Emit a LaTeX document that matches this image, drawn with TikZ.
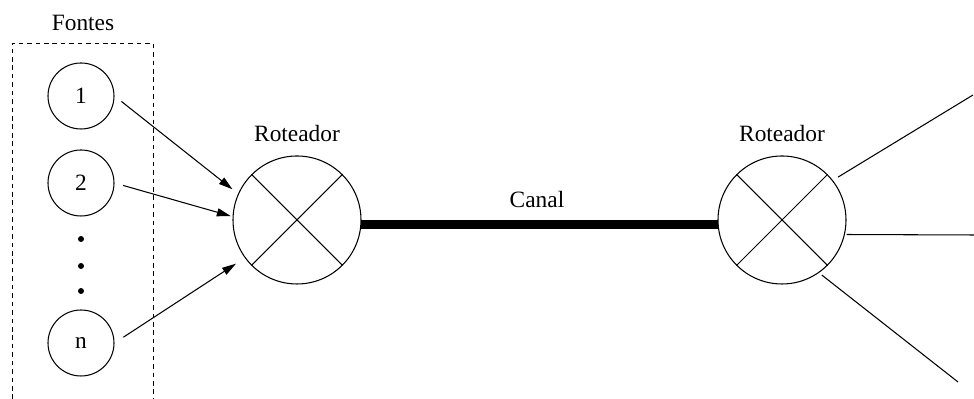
\documentclass[tikz,border=0pt]{standalone}
\usepackage{fontspec}
\setmainfont{Liberation Serif}
\newfontfamily\rotulo{Liberation Serif}
\usetikzlibrary{positioning,arrows.meta}

\tikzset{
	fonte/.style={draw, circle, line width=0.6pt, minimum size=1.32cm, inner sep=0pt},
	roteador/.style={draw, circle, line width=0.6pt, minimum size=2.56cm, inner sep=0pt},
	seta/.style={line width=0.6pt, -{Triangle[length=2.8mm,width=1.6mm]}},
}

\begin{document}
\begin{tikzpicture}[font=\rotulo\fontsize{13.3}{15}\selectfont]
		\useasboundingbox (0,0) rectangle (19.48,7.98);

		% fontes
		\draw [dash pattern=on 2.6pt off 2.2pt, line width=0.5pt]
			(0.24,0) -- (0.24,7.12) -- (3.06,7.12) -- (3.06,0);
		\node (fontes) at (1.66,7.52) {Fontes};
		\node[fonte] (s1) at (1.62,6.06) {1};
		\node[fonte] (s2) at (1.62,4.32) {2};
		\node[fonte] (sn) at (1.62,1.12) {n};
		\foreach \y in {3.20,2.66,2.16}
			\fill (1.62,\y) circle [radius=0.06];

		% roteadores
		\node[roteador] (r1) at (5.94,3.58) {};
		\node[roteador] (r2) at (15.64,3.58) {};
		\foreach \r in {r1,r2} {
			\draw[line width=0.6pt] (\r.north west) -- (\r.south east);
			\draw[line width=0.6pt] (\r.north east) -- (\r.south west);
		}
		\node[above=1.5mm of r1] (r1lbl) {Roteador};
		\node[above=1.5mm of r2] (r2lbl) {Roteador};

		% canal
		\draw[line width=4.6pt] (r1.-4.5) -- (r2.184.5);
		\node (canal) at (10.74,3.98) {Canal};

		\draw[seta, shorten <=5pt, shorten >=4pt] (s1.east) -- (r1.156);
		\draw[seta, shorten <=5pt, shorten >=1pt] (s2.east) -- (r1.177);
		\draw[seta, shorten <=6pt, shorten >=6pt] (sn.east) -- (r1.216);

		% saidas
		\coordinate (o1) at (19.46,6.08);
		\coordinate (o2) at (19.48,3.28);
		\coordinate (o3) at (19.16,0.34);
		\draw[line width=0.6pt, shorten <=3.5pt] (r2.38) -- (o1);
		\draw[line width=0.6pt, shorten <=1pt] (r2.-13) -- (o2);
		\draw[line width=0.6pt, shorten <=2pt] (r2.-55) -- (o3);
	\end{tikzpicture}
\end{document}
